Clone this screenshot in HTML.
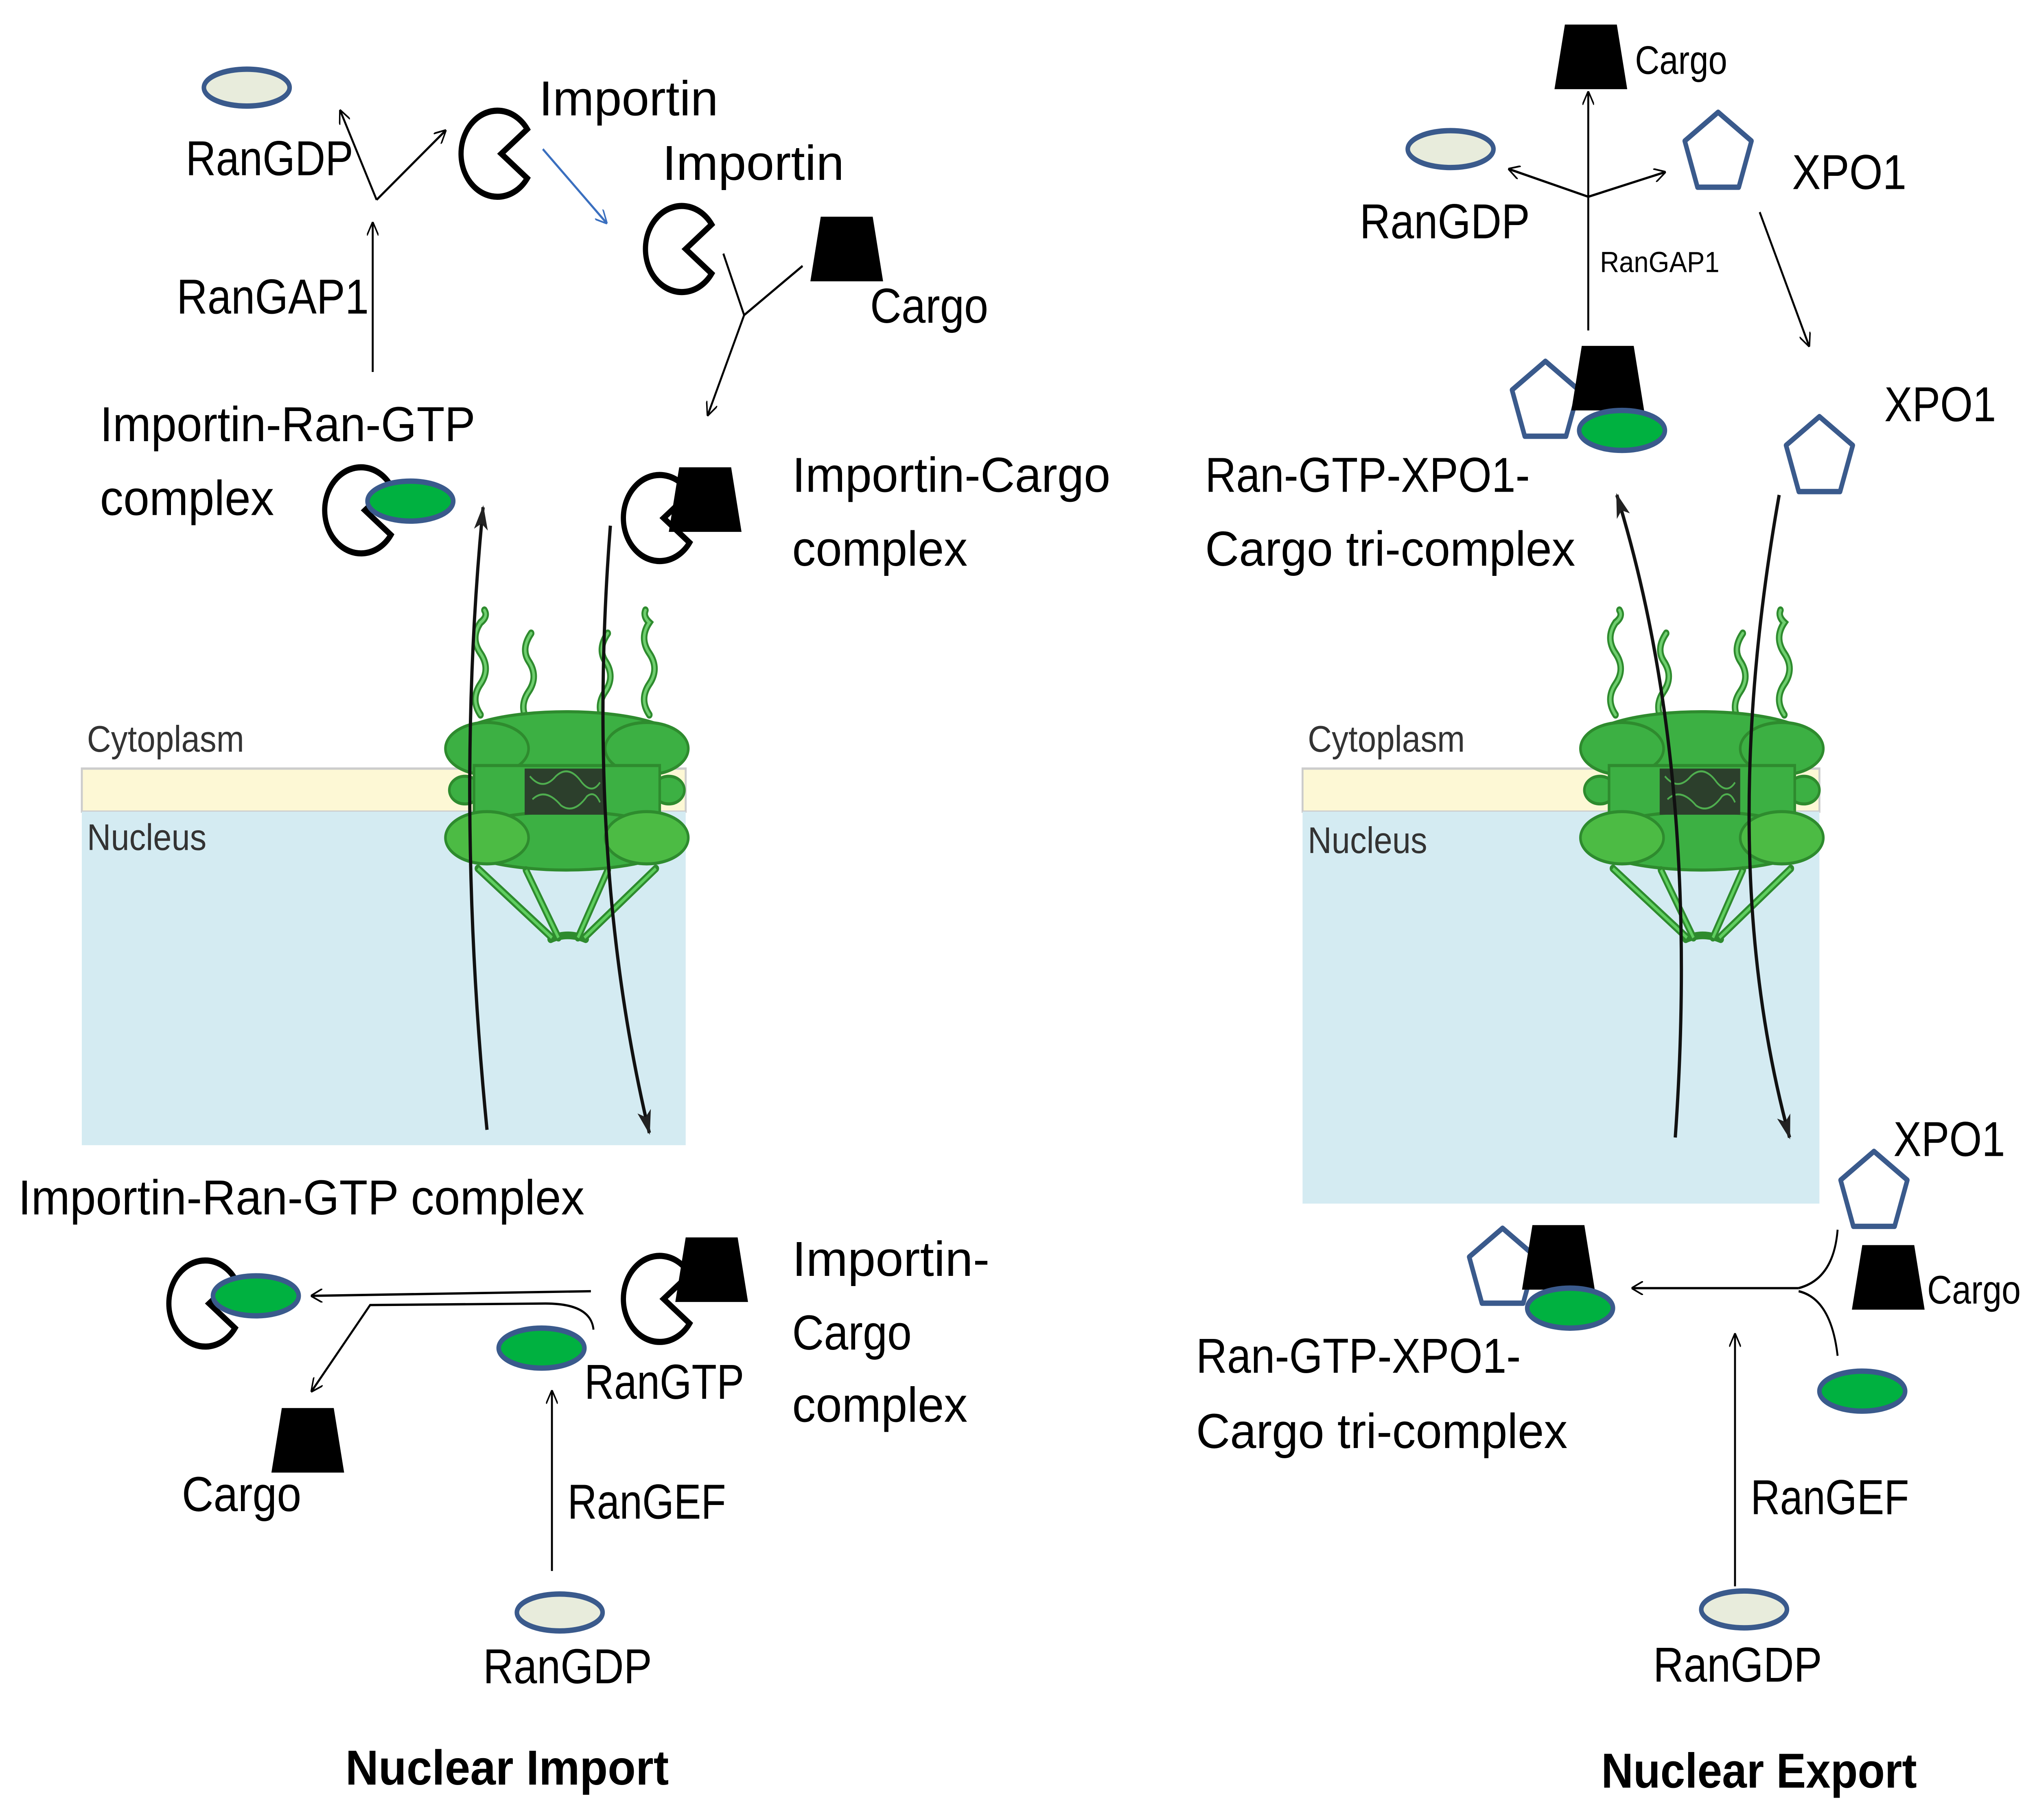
<!DOCTYPE html>
<html><head><meta charset="utf-8"><style>
html,body{margin:0;padding:0;background:#fff;width:100%;height:100%;overflow:hidden;}
svg{display:block;width:100vw;height:100vh;}
text{font-family:"Liberation Sans",sans-serif;fill:#000;}
</style></head><body>
<svg viewBox="0 0 1567 1184" preserveAspectRatio="none" xmlns="http://www.w3.org/2000/svg">
<defs>
<marker id="ah" viewBox="0 0 12 12" refX="11" refY="6" markerWidth="9" markerHeight="9" orient="auto" markerUnits="userSpaceOnUse"><path d="M0,0 L12,6 L0,12" fill="none" stroke="#000" stroke-width="1.5"/></marker>
<marker id="ahb" viewBox="0 0 12 12" refX="11" refY="6" markerWidth="9" markerHeight="9" orient="auto" markerUnits="userSpaceOnUse"><path d="M0,0 L12,6 L0,12" fill="none" stroke="#3a6fbf" stroke-width="1.5"/></marker>
<marker id="ahf" viewBox="0 0 12 12" refX="11" refY="6" markerWidth="16" markerHeight="16" orient="auto" markerUnits="userSpaceOnUse"><path d="M0,2 L12,6 L0,10 L3,6 Z" fill="#222"/></marker>
<path id="pac" d="M23,-16 A28,28 0 1 0 23,16 L3,0 Z" fill="#fff" stroke="#000" stroke-width="4" stroke-linejoin="miter"/>
<path id="cargo" d="M-20,-21 L20,-21 L28,21 L-28,21 Z" fill="#000"/>
<ellipse id="gr" rx="33" ry="13" fill="#00b140" stroke="#3a5a8c" stroke-width="3.5"/>
<ellipse id="gdp" rx="33" ry="12" fill="#e8ecdc" stroke="#3a5a8c" stroke-width="3.5"/>
<polygon id="pent" points="0,-27 25.7,-8.3 15.9,21.8 -15.9,21.8 -25.7,-8.3" fill="#fff" stroke="#3a5a8c" stroke-width="3.5" stroke-linejoin="round"/>
<g id="pore">
 <g fill="none" stroke="#2e8b2e" stroke-width="5" stroke-linecap="round">
  <path d="M370,465 q-8,-10 0,-20 q8,-10 0,-20 q-8,-10 0,-20 q6,-4 3,-8"/>
  <path d="M407,470 q-8,-10 0,-20 q8,-10 0,-20 q-6,-8 2,-18"/>
  <path d="M466,470 q-8,-10 0,-20 q8,-10 0,-20 q-6,-8 2,-18"/>
  <path d="M500,465 q-8,-10 0,-20 q8,-10 0,-20 q-8,-10 0,-20 q-5,-4 -3,-8"/>
 </g>
 <g fill="none" stroke="#6fcf6f" stroke-width="2" stroke-linecap="round">
  <path d="M370,465 q-8,-10 0,-20 q8,-10 0,-20 q-8,-10 0,-20 q6,-4 3,-8"/>
  <path d="M407,470 q-8,-10 0,-20 q8,-10 0,-20 q-6,-8 2,-18"/>
  <path d="M466,470 q-8,-10 0,-20 q8,-10 0,-20 q-6,-8 2,-18"/>
  <path d="M500,465 q-8,-10 0,-20 q8,-10 0,-20 q-8,-10 0,-20 q-5,-4 -3,-8"/>
 </g>
 <g stroke="#2e8b2e" stroke-width="2">
 <ellipse cx="436" cy="482" rx="86" ry="19" fill="#3cb043"/>
 <ellipse cx="375" cy="487" rx="32" ry="17" fill="#3cb043"/>
 <ellipse cx="498" cy="487" rx="32" ry="17" fill="#3cb043"/>
 <ellipse cx="358" cy="514" rx="12" ry="9" fill="#3cb043"/>
 <ellipse cx="515" cy="514" rx="12" ry="9" fill="#3cb043"/>
 <rect x="365" y="498" width="143" height="33" fill="#3cb043"/>
 <ellipse cx="436" cy="547" rx="86" ry="19" fill="#3cb043"/>
 <ellipse cx="375" cy="545" rx="32" ry="17" fill="#4cbb44"/>
 <ellipse cx="498" cy="545" rx="32" ry="17" fill="#4cbb44"/>
 </g>
 <rect x="404" y="500" width="62" height="30" fill="#2c3f2c"/>
 <g fill="none" stroke="#4fae4f" stroke-width="1.2"><path d="M408,505 q10,10 20,0 q10,-8 20,4 q8,8 14,0 M410,520 q10,-8 22,4 q10,6 20,-6 q6,-4 10,4"/></g>
 <g stroke="#2e8b2e" stroke-width="5" stroke-linecap="round" fill="none">
  <path d="M368,565 L425,610 M405,566 L430,610 M468,566 L445,610 M505,565 L450,610 M424,611 Q437,606 451,611"/>
 </g>
 <g stroke="#5fcf5f" stroke-width="2" fill="none">
  <path d="M368,565 L425,610 M405,566 L430,610 M468,566 L445,610 M505,565 L450,610"/>
 </g>
</g>
</defs>

<!-- LEFT PANEL: NUCLEAR IMPORT -->
<rect x="63" y="500" width="465" height="28" fill="#fdf8d5" stroke="#ccc" stroke-width="1.5"/>
<rect x="63" y="528" width="465" height="217" fill="#d4ebf2"/>
<text x="67" y="489" font-size="24" style="fill:#333" textLength="121" lengthAdjust="spacingAndGlyphs">Cytoplasm</text>
<text x="67" y="553" font-size="24" style="fill:#333" textLength="92" lengthAdjust="spacingAndGlyphs">Nucleus</text>
<use href="#pore"/>
<path d="M375,735 Q350,520 372,330" fill="none" stroke="#111" stroke-width="2.5" marker-end="url(#ahf)"/>
<path d="M470,342 Q450,560 500,737" fill="none" stroke="#111" stroke-width="2.5" marker-end="url(#ahf)"/>

<use href="#gdp" x="190" y="57"/>
<text x="143" y="114" font-size="32" textLength="129" lengthAdjust="spacingAndGlyphs">RanGDP</text>
<path d="M290,130 L262,72" stroke="#000" stroke-width="1.5" marker-end="url(#ah)"/>
<path d="M290,130 L343,85" stroke="#000" stroke-width="1.5" marker-end="url(#ah)"/>
<path d="M287,242 L287,145" stroke="#000" stroke-width="1.5" marker-end="url(#ah)"/>
<text x="136" y="204" font-size="32" textLength="148" lengthAdjust="spacingAndGlyphs">RanGAP1</text>
<use href="#pac" x="383" y="100"/>
<text x="415" y="75" font-size="32" textLength="138" lengthAdjust="spacingAndGlyphs">Importin</text>
<path d="M418,97 L467,145" stroke="#3a6fbf" stroke-width="1.5" marker-end="url(#ahb)"/>
<text x="510" y="117" font-size="32" textLength="140" lengthAdjust="spacingAndGlyphs">Importin</text>
<use href="#pac" x="525" y="162"/>
<use href="#cargo" x="652" y="162"/>
<text x="670" y="210" font-size="32" textLength="91" lengthAdjust="spacingAndGlyphs">Cargo</text>
<path d="M557,165 L573,205 L618,173 M573,205 L545,270" fill="none" stroke="#000" stroke-width="1.5" marker-end="url(#ah)"/>
<text x="77" y="287" font-size="32" textLength="289" lengthAdjust="spacingAndGlyphs">Importin-Ran-GTP</text>
<text x="77" y="335" font-size="32" textLength="134" lengthAdjust="spacingAndGlyphs">complex</text>
<use href="#pac" x="278" y="332"/>
<use href="#gr" x="316" y="326"/>
<use href="#pac" x="508" y="337"/>
<use href="#cargo" x="543" y="325"/>
<text x="610" y="320" font-size="32" textLength="245" lengthAdjust="spacingAndGlyphs">Importin-Cargo</text>
<text x="610" y="368" font-size="32" textLength="135" lengthAdjust="spacingAndGlyphs">complex</text>

<text x="14" y="790" font-size="32" textLength="436" lengthAdjust="spacingAndGlyphs">Importin-Ran-GTP complex</text>
<use href="#pac" x="158" y="848"/>
<use href="#gr" x="197" y="843"/>
<path d="M455,840 L240,843" stroke="#000" stroke-width="1.5" marker-end="url(#ah)"/>
<path d="M457,865 Q455,848 420,848 L285,849 L240,905" fill="none" stroke="#000" stroke-width="1.5" marker-end="url(#ah)"/>
<use href="#pac" x="508" y="845"/>
<use href="#cargo" x="548" y="826"/>
<use href="#gr" x="417" y="877"/>
<text x="450" y="910" font-size="32" textLength="123" lengthAdjust="spacingAndGlyphs">RanGTP</text>
<use href="#cargo" x="237" y="937"/>
<text x="140" y="983" font-size="32" textLength="92" lengthAdjust="spacingAndGlyphs">Cargo</text>
<text x="610" y="830" font-size="32" textLength="152" lengthAdjust="spacingAndGlyphs">Importin-</text>
<text x="610" y="878" font-size="32" textLength="92" lengthAdjust="spacingAndGlyphs">Cargo</text>
<text x="610" y="925" font-size="32" textLength="135" lengthAdjust="spacingAndGlyphs">complex</text>
<path d="M425,1022 L425,905" stroke="#000" stroke-width="1.5" marker-end="url(#ah)"/>
<text x="437" y="988" font-size="32" textLength="122" lengthAdjust="spacingAndGlyphs">RanGEF</text>
<use href="#gdp" x="431" y="1049"/>
<text x="372" y="1095" font-size="32" textLength="130" lengthAdjust="spacingAndGlyphs">RanGDP</text>
<text x="266" y="1161" font-size="32" font-weight="bold" textLength="249" lengthAdjust="spacingAndGlyphs">Nuclear Import</text>

<!-- RIGHT PANEL: NUCLEAR EXPORT -->
<rect x="1003" y="500" width="398" height="28" fill="#fdf8d5" stroke="#ccc" stroke-width="1.5"/>
<rect x="1003" y="528" width="398" height="255" fill="#d4ebf2"/>
<text x="1007" y="489" font-size="24" style="fill:#333" textLength="121" lengthAdjust="spacingAndGlyphs">Cytoplasm</text>
<text x="1007" y="555" font-size="24" style="fill:#333" textLength="92" lengthAdjust="spacingAndGlyphs">Nucleus</text>
<use href="#pore" transform="translate(874,0)"/>
<path d="M1290,740 Q1310,500 1245,322" fill="none" stroke="#111" stroke-width="2.5" marker-end="url(#ahf)"/>
<path d="M1370,322 Q1320,560 1378,740" fill="none" stroke="#111" stroke-width="2.5" marker-end="url(#ahf)"/>

<use href="#cargo" x="1225" y="37"/>
<text x="1259" y="48" font-size="26" textLength="71" lengthAdjust="spacingAndGlyphs">Cargo</text>
<path d="M1223,215 L1223,60" stroke="#000" stroke-width="1.5" marker-end="url(#ah)"/>
<path d="M1223,128 L1162,110" stroke="#000" stroke-width="1.5" marker-end="url(#ah)"/>
<path d="M1223,128 L1282,112" stroke="#000" stroke-width="1.5" marker-end="url(#ah)"/>
<use href="#gdp" x="1117" y="97"/>
<text x="1047" y="155" font-size="32" textLength="131" lengthAdjust="spacingAndGlyphs">RanGDP</text>
<use href="#pent" x="1323" y="100"/>
<text x="1380" y="123" font-size="32" textLength="88" lengthAdjust="spacingAndGlyphs">XPO1</text>
<text x="1232" y="177" font-size="19" textLength="92" lengthAdjust="spacingAndGlyphs">RanGAP1</text>
<path d="M1355,138 L1393,225" stroke="#000" stroke-width="1.5" marker-end="url(#ah)"/>
<text x="1451" y="274" font-size="32" textLength="86" lengthAdjust="spacingAndGlyphs">XPO1</text>
<use href="#pent" x="1401" y="298"/>
<use href="#pent" x="1190" y="262"/>
<use href="#cargo" x="1238" y="246"/>
<use href="#gr" x="1249" y="280"/>
<text x="928" y="320" font-size="32" textLength="250" lengthAdjust="spacingAndGlyphs">Ran-GTP-XPO1-</text>
<text x="928" y="368" font-size="32" textLength="285" lengthAdjust="spacingAndGlyphs">Cargo tri-complex</text>

<use href="#pent" x="1443" y="776"/>
<text x="1458" y="752" font-size="32" textLength="86" lengthAdjust="spacingAndGlyphs">XPO1</text>
<use href="#cargo" x="1454" y="831"/>
<text x="1484" y="848" font-size="26" textLength="72" lengthAdjust="spacingAndGlyphs">Cargo</text>
<use href="#gr" x="1434" y="905"/>
<path d="M1415,800 Q1412,832 1385,838 M1415,882 Q1410,845 1385,840" fill="none" stroke="#000" stroke-width="1.5"/>
<path d="M1385,838 L1257,838" stroke="#000" stroke-width="1.5" marker-end="url(#ah)"/>
<use href="#pent" x="1157" y="826"/>
<use href="#cargo" x="1200" y="818"/>
<use href="#gr" x="1209" y="851"/>
<text x="921" y="893" font-size="32" textLength="250" lengthAdjust="spacingAndGlyphs">Ran-GTP-XPO1-</text>
<text x="921" y="942" font-size="32" textLength="286" lengthAdjust="spacingAndGlyphs">Cargo tri-complex</text>
<path d="M1336,1032 L1336,868" stroke="#000" stroke-width="1.5" marker-end="url(#ah)"/>
<text x="1348" y="985" font-size="32" textLength="122" lengthAdjust="spacingAndGlyphs">RanGEF</text>
<use href="#gdp" x="1343" y="1047"/>
<text x="1273" y="1094" font-size="32" textLength="130" lengthAdjust="spacingAndGlyphs">RanGDP</text>
<text x="1233" y="1163" font-size="32" font-weight="bold" textLength="243" lengthAdjust="spacingAndGlyphs">Nuclear Export</text>
</svg>
</body></html>
